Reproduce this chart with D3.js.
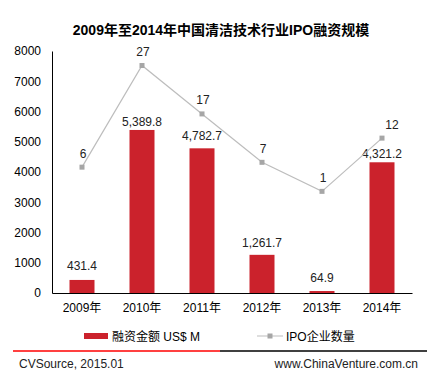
<!DOCTYPE html>
<html>
<head>
<meta charset="utf-8">
<script src="https://cdn.jsdelivr.net/npm/d3@7"></script>
<style>
  body { margin: 0; background: #fff; }
  svg { display: block; font-family: "Liberation Sans", Arial, "Noto Sans CJK SC", sans-serif; }
</style>
</head>
<body>
<svg id="chart"></svg>
<script>
const years = ["2009年", "2010年", "2011年", "2012年", "2013年", "2014年"];
const funding = [431.4, 5389.8, 4782.7, 1261.7, 64.9, 4321.2];
const ipoCount = [6, 27, 17, 7, 1, 12];
const yTicks = [0, 1000, 2000, 3000, 4000, 5000, 6000, 7000, 8000];

const width = 440, height = 378;
const plotLeft = 52, plotRight = 412, plotTop = 51, plotBottom = 293;

const svg = d3.select("#chart").attr("width", width).attr("height", height);

// title
svg.append("text")
    .attr("x", 221).attr("y", 35)
    .attr("text-anchor", "middle")
    .attr("font-size", 14).attr("font-weight", "bold")
    .attr("fill", "#000")
    .text("2009年至2014年中国清洁技术行业IPO融资规模");

const x = d3.scaleBand().domain(years).range([plotLeft, plotRight]);
const y = d3.scaleLinear().domain([0, 8000]).range([plotBottom, plotTop]);
// secondary axis for the line (not drawn)
const y2 = d3.scaleLinear().domain([-20, 30]).range([plotBottom, plotTop]);

// y axis
const yAxis = svg.append("g")
    .attr("transform", `translate(${plotLeft},0)`)
    .call(d3.axisLeft(y).tickValues(yTicks).tickSize(0).tickPadding(11).tickFormat(d3.format("d")));
yAxis.select(".domain").attr("stroke", "#000");
yAxis.selectAll("text").attr("font-size", 12).attr("fill", "#000")
    .attr("font-family", "Liberation Sans, Arial, sans-serif");

// bars
const barW = 25;
svg.append("g").selectAll("rect")
    .data(funding)
    .enter()
    .append("rect")
    .attr("x", (d, i) => x(years[i]) + x.bandwidth() / 2 - barW / 2)
    .attr("y", d => y(d))
    .attr("width", barW)
    .attr("height", d => y(0) - y(d))
    .attr("fill", "#CB222C");

// x axis
const xAxis = svg.append("g")
    .attr("transform", `translate(0,${plotBottom})`)
    .call(d3.axisBottom(x).tickSize(0).tickPadding(10));
xAxis.select(".domain").attr("stroke", "#000");
xAxis.selectAll("text").attr("font-size", 12).attr("fill", "#000")
    .attr("font-family", "Liberation Sans, Arial, Noto Sans CJK SC, sans-serif");

// bar labels (gap above bar as placed in the original)
const labelGap = [10, 4, 8, 8, 9, 4];
svg.append("g").selectAll("text")
    .data(funding)
    .enter()
    .append("text")
    .attr("x", (d, i) => x(years[i]) + x.bandwidth() / 2)
    .attr("y", (d, i) => y(d) - labelGap[i])
    .attr("text-anchor", "middle")
    .attr("font-size", 12)
    .attr("fill", "#222")
    .text(d => d3.format(",.1f")(d));

// line
const cx = (d, i) => x(years[i]) + x.bandwidth() / 2;
const line = d3.line().x(cx).y(d => y2(d));
svg.append("path")
    .datum(ipoCount)
    .attr("d", line)
    .attr("fill", "none")
    .attr("stroke", "#BDBDBD")
    .attr("stroke-width", 1.2);

svg.append("g").selectAll("rect")
    .data(ipoCount)
    .enter()
    .append("rect")
    .attr("x", (d, i) => cx(d, i) - 2.5)
    .attr("y", d => y2(d) - 2.5)
    .attr("width", 5).attr("height", 5)
    .attr("fill", "#A6A6A6");

svg.append("g").selectAll("text")
    .data(ipoCount)
    .enter()
    .append("text")
    .attr("x", (d, i) => cx(d, i) + (i === 5 ? 10 : 1))
    .attr("y", d => y2(d) - 9.5)
    .attr("text-anchor", "middle")
    .attr("font-size", 12)
    .attr("fill", "#222")
    .text(d => d);

// legend
const leg = svg.append("g");
leg.append("rect").attr("x", 84).attr("y", 333).attr("width", 24).attr("height", 6).attr("fill", "#CB222C");
leg.append("text").attr("x", 112).attr("y", 340.5).attr("font-size", 12).attr("fill", "#000")
    .text("融资金额 US$ M");
leg.append("line").attr("x1", 257).attr("x2", 283).attr("y1", 336).attr("y2", 336)
    .attr("stroke", "#BDBDBD").attr("stroke-width", 1);
leg.append("rect").attr("x", 267.5).attr("y", 333.5).attr("width", 5).attr("height", 5).attr("fill", "#A6A6A6");
leg.append("text").attr("x", 286).attr("y", 340.5).attr("font-size", 12).attr("fill", "#000")
    .text("IPO企业数量");

// footer
svg.append("line").attr("x1", 13).attr("x2", 220).attr("y1", 351).attr("y2", 351)
    .attr("stroke", "#FF0000").attr("stroke-width", 1.5);
svg.append("line").attr("x1", 220).attr("x2", 427).attr("y1", 351).attr("y2", 351)
    .attr("stroke", "#000").attr("stroke-width", 1.5);
svg.append("text").attr("x", 19).attr("y", 368).attr("font-size", 12).attr("fill", "#222")
    .text("CVSource, 2015.01");
svg.append("text").attr("x", 418).attr("y", 368).attr("text-anchor", "end").attr("font-size", 12).attr("fill", "#222")
    .text("www.ChinaVenture.com.cn");
</script>
</body>
</html>
